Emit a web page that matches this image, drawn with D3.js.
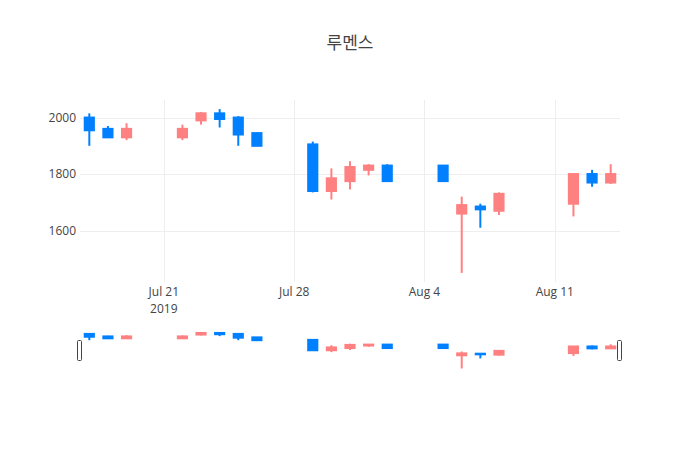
<!DOCTYPE html>
<html>
<head>
<meta charset="utf-8">
<script src="https://cdn.jsdelivr.net/npm/d3@7"></script>
<style>
  html, body { margin: 0; padding: 0; background: #fff; }
  svg { display: block; font-family: "Open Sans", "Noto Sans CJK KR", sans-serif; }
</style>
</head>
<body>
<svg id="chart" width="700" height="450"></svg>
<script>
const title = "루멘스";
const dates = ["2019-07-17","2019-07-18","2019-07-19","2019-07-22","2019-07-23","2019-07-24","2019-07-25","2019-07-26","2019-07-29","2019-07-30","2019-07-31","2019-08-01","2019-08-02","2019-08-05","2019-08-06","2019-08-07","2019-08-08","2019-08-12","2019-08-13","2019-08-14"];
const openVals  = [2000,1960,1930,1930,1990,2015,2000,1945,1905,1740,1775,1815,1830,1830,1660,1685,1670,1695,1800,1770];
const highVals  = [2015,1970,1980,1975,2020,2030,2005,1945,1915,1820,1845,1835,1835,1832,1720,1695,1735,1800,1815,1835];
const lowVals   = [1900,1930,1920,1920,1975,1965,1900,1900,1735,1710,1745,1795,1775,1775,1450,1610,1655,1650,1755,1765];
const closeVals = [1955,1930,1960,1960,2015,1995,1940,1900,1740,1785,1825,1830,1775,1775,1690,1675,1730,1800,1770,1800];
const yTicks = [1600, 1800, 2000];
const xTickDates = ["2019-07-21","2019-07-28","2019-08-04","2019-08-11"];
const xTickLabels = ["Jul 21","Jul 28","Aug 4","Aug 11"];
const xTickSub = ["2019","","",""];

const upColor = "#ff8080";
const downColor = "#0080ff";

const svg = d3.select("#chart");
const W = 700, H = 450;
const m = {l: 80, r: 80, t: 100};
const plotBottom = 282;
const sliderTop = 330, sliderH = 40.5;

const parse = d3.utcParse("%Y-%m-%d");
const data = dates.map((d, i) => ({
  date: parse(d), o: openVals[i], h: highVals[i], l: lowVals[i], c: closeVals[i]
}));

const dayMs = 864e5;
const x0 = new Date(d3.min(data, d => d.date).getTime() - dayMs / 2);
const x1 = new Date(d3.max(data, d => d.date).getTime() + dayMs / 2);
const x = d3.scaleUtc().domain([x0, x1]).range([m.l, W - m.r]);

const yMin = d3.min(lowVals), yMax = d3.max(highVals);
const pad = (yMax - yMin) / 0.9 * 0.05;
const y = d3.scaleLinear().domain([yMin - pad, yMax + pad]).range([plotBottom, m.t]);
const ys = d3.scaleLinear().domain([yMin - pad, yMax + pad]).range([sliderTop + sliderH, sliderTop]);

// title
svg.append("text")
  .attr("x", W / 2).attr("y", 49)
  .attr("text-anchor", "middle")
  .attr("font-size", 17)
  .attr("fill", "#444")
  .attr("font-family", "'Noto Sans CJK KR', 'Open Sans', sans-serif")
  .text(title);

// grid
const grid = svg.append("g");
grid.selectAll("line.yg").data(yTicks).join("line")
  .attr("x1", m.l).attr("x2", W - m.r)
  .attr("y1", d => Math.round(y(d)) + 0.5).attr("y2", d => Math.round(y(d)) + 0.5)
  .attr("stroke", "#eee").attr("stroke-width", 1);
grid.selectAll("line.xg").data(xTickDates).join("line")
  .attr("x1", d => Math.round(x(parse(d))) + 0.5).attr("x2", d => Math.round(x(parse(d))) + 0.5)
  .attr("y1", m.t).attr("y2", plotBottom)
  .attr("stroke", "#eee").attr("stroke-width", 1);

// y labels
svg.append("g").selectAll("text").data(yTicks).join("text")
  .attr("x", 76).attr("y", d => y(d))
  .attr("dy", "0.35em")
  .attr("text-anchor", "end")
  .attr("font-size", 12).attr("fill", "#444")
  .text(d => d);

// x labels
const xl = svg.append("g");
xl.selectAll("text.a").data(xTickDates).join("text")
  .attr("x", d => x(parse(d))).attr("y", 296)
  .attr("text-anchor", "middle")
  .attr("font-size", 12).attr("fill", "#444")
  .text((d, i) => xTickLabels[i]);
xl.selectAll("text.b").data(xTickDates).join("text")
  .attr("x", d => x(parse(d))).attr("y", 312.5)
  .attr("text-anchor", "middle")
  .attr("font-size", 12).attr("fill", "#444")
  .text((d, i) => xTickSub[i]);

function drawCandles(g, yScale) {
  const bw = (x(new Date(x0.getTime() + dayMs)) - x(x0)) * 0.6 - 2;
  const c = g.selectAll("g").data(data).join("g");
  c.append("line")
    .attr("x1", d => x(d.date)).attr("x2", d => x(d.date))
    .attr("y1", d => yScale(d.h)).attr("y2", d => yScale(d.l))
    .attr("stroke", d => d.c >= d.o ? upColor : downColor)
    .attr("stroke-width", 2);
  c.append("rect")
    .attr("x", d => x(d.date) - bw / 2)
    .attr("width", bw)
    .attr("y", d => yScale(Math.max(d.o, d.c)))
    .attr("height", d => Math.max(0.5, Math.abs(yScale(d.o) - yScale(d.c))))
    .attr("fill", d => d.c >= d.o ? upColor : downColor)
    .attr("stroke", d => d.c >= d.o ? upColor : downColor)
    .attr("stroke-width", 2);
}

drawCandles(svg.append("g"), y);

// range slider
const sl = svg.append("g");
sl.append("rect")
  .attr("x", m.l).attr("y", sliderTop)
  .attr("width", W - m.l - m.r).attr("height", sliderH)
  .attr("fill", "#fff");
drawCandles(sl.append("g"), ys);
[m.l, W - m.r].forEach(px => {
  sl.append("rect")
    .attr("x", px - 2.5).attr("y", sliderTop + 10.5)
    .attr("width", 4).attr("height", 20)
    .attr("rx", 1)
    .attr("fill", "#fff").attr("stroke", "#444").attr("stroke-width", 1);
});
</script>
</body>
</html>
